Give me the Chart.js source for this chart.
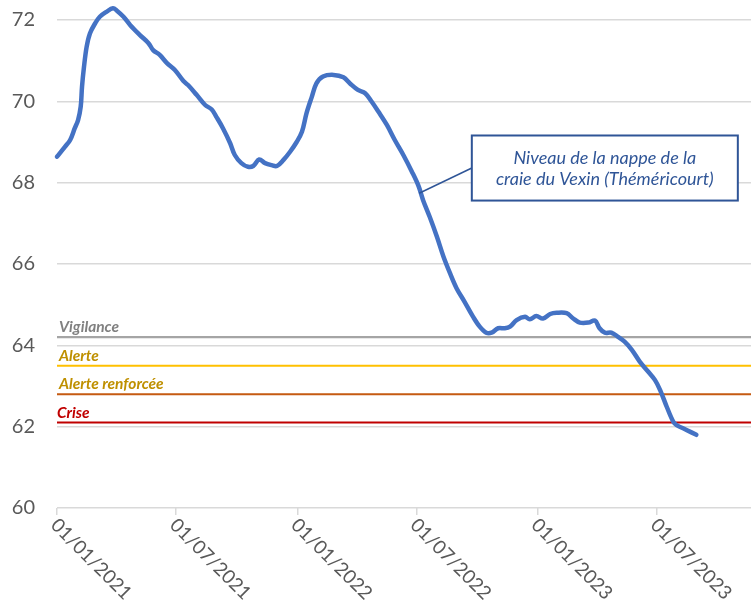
<!DOCTYPE html>
<html><head><meta charset="utf-8">
<script src="https://cdn.jsdelivr.net/npm/chart.js@4.4.1/dist/chart.umd.min.js"></script>
<style>html,body{margin:0;padding:0;background:#fff}#wrap{width:751px;height:610px}</style>
</head><body><div id="wrap"><canvas id="c" width="751" height="610"></canvas></div>
<script>
// ---- data ----
const dates = ['2021-01-01','2021-01-13','2021-01-21','2021-01-28','2021-02-02','2021-02-06','2021-02-08','2021-02-11','2021-02-15','2021-02-20','2021-02-28','2021-03-07','2021-03-17','2021-03-27','2021-04-02','2021-04-12','2021-04-22','2021-05-07','2021-05-20','2021-05-27','2021-06-06','2021-06-17','2021-06-29','2021-07-12','2021-07-19','2021-08-01','2021-08-14','2021-08-24','2021-08-31','2021-09-10','2021-09-21','2021-09-28','2021-10-08','2021-10-18','2021-10-26','2021-11-04','2021-11-13','2021-11-23','2021-12-01','2021-12-11','2021-12-21','2021-12-31','2022-01-08','2022-01-15','2022-01-23','2022-01-30','2022-02-09','2022-02-25','2022-03-12','2022-03-22','2022-04-03','2022-04-14','2022-04-24','2022-05-04','2022-05-17','2022-05-29','2022-06-11','2022-06-24','2022-07-04','2022-07-11','2022-07-21','2022-08-01','2022-08-11','2022-08-21','2022-08-31','2022-09-12','2022-09-25','2022-10-05','2022-10-15','2022-10-23','2022-11-02','2022-11-12','2022-11-20','2022-11-30','2022-12-13','2022-12-20','2022-12-30','2023-01-09','2023-01-20','2023-01-30','2023-02-14','2023-02-24','2023-03-06','2023-03-19','2023-03-29','2023-04-05','2023-04-13','2023-04-23','2023-05-03','2023-05-13','2023-05-24','2023-06-05','2023-06-18','2023-06-28','2023-07-06','2023-07-16','2023-07-26','2023-07-31','2023-08-15','2023-08-30'];
const levels = [68.64,68.88,69.05,69.34,69.54,69.87,70.36,70.85,71.34,71.67,71.92,72.08,72.20,72.29,72.23,72.08,71.88,71.63,71.43,71.26,71.14,70.94,70.77,70.50,70.40,70.16,69.91,69.80,69.62,69.34,68.97,68.68,68.48,68.39,68.41,68.57,68.48,68.43,68.41,68.56,68.76,69.00,69.25,69.71,70.11,70.44,70.61,70.65,70.59,70.44,70.28,70.20,69.99,69.75,69.42,69.05,68.68,68.27,67.92,67.57,67.16,66.67,66.18,65.77,65.40,65.07,64.70,64.46,64.31,64.31,64.42,64.42,64.46,64.62,64.70,64.64,64.72,64.66,64.77,64.80,64.79,64.66,64.56,64.56,64.61,64.42,64.31,64.31,64.21,64.09,63.89,63.60,63.35,63.15,62.90,62.49,62.12,62.04,61.92,61.80];
const tickLabels = ['01/01/2021','01/07/2021','01/01/2022','01/07/2022','01/01/2023','01/07/2023'];
const yTickValues = [60,62,64,66,68,70,72];
const thresholdNames = ['Vigilance','Alerte','Alerte renforcée','Crise'];
const thresholdValues = [64.2,63.5,62.8,62.1];
const seriesLabel = ['Niveau de la nappe de la','craie du Vexin (Théméricourt)'];
const axisEnd = '2023-11-21';

// ---- helpers ----
const ORIGIN = Date.UTC(2021,0,1);
const dayOf = iso => (Date.parse(iso+'T00:00:00Z') - ORIGIN)/86400000;
const dayOfFr = s => { const [d,m,y] = s.split('/').map(Number); return (Date.UTC(y,m-1,d)-ORIGIN)/86400000; };
const tickDays = tickLabels.map(dayOfFr);
const xMax = dayOf(axisEnd);

const thresholdLineColors = ['#A5A5A5','#FFC000','#C55A11','#C00000'];
const thresholdTextColors = ['#808080','#BF9000','#BF9000','#C00000'];
const FONT = 'Lato, "Open Sans", sans-serif';

// callout placement (in data units)
const callout = { x0: dayOf('2022-09-23'), x1: dayOf('2023-11-01'), yTop: 69.16, yBottom: 67.56, anchorY: 68.36, toX: dayOf('2022-07-05'), toY: 67.74 };

const seriesData = dates.map((d,i) => ({x: dayOf(d), y: levels[i]}));

const thresholdSets = thresholdValues.map((v,i) => ({
  label: thresholdNames[i],
  data: [{x:0,y:v},{x:xMax,y:v}],
  borderColor: thresholdLineColors[i],
  borderWidth: i===0 ? 2.2 : 2,
  pointRadius: 0,
  order: 2
}));

const overlay = {
  id: 'overlay',
  afterDraw(chart) {
    const ctx = chart.ctx, xs = chart.scales.x, ys = chart.scales.y;
    ctx.save();
    // x tick labels, rotated 45deg clockwise
    ctx.font = '19px ' + FONT;
    ctx.fillStyle = '#595959';
    ctx.textAlign = 'left';
    ctx.textBaseline = 'middle';
    tickDays.forEach((d,i) => {
      const px = xs.getPixelForValue(d);
      ctx.save();
      ctx.translate(px - 3, ys.bottom + 14);
      ctx.rotate(Math.PI/4);
      ctx.fillText(tickLabels[i], 0, 0);
      ctx.restore();
    });
    // threshold labels
    ctx.font = 'italic bold 15.5px ' + FONT;
    ctx.textBaseline = 'alphabetic';
    thresholdValues.forEach((v,i) => {
      ctx.fillStyle = thresholdTextColors[i];
      ctx.fillText(thresholdNames[i], xs.left + (i===3 ? 0 : 2), ys.getPixelForValue(v) - 5);
    });
    // callout
    const bx0 = xs.getPixelForValue(callout.x0), bx1 = xs.getPixelForValue(callout.x1);
    const by0 = ys.getPixelForValue(callout.yTop), by1 = ys.getPixelForValue(callout.yBottom);
    ctx.strokeStyle = '#2F5597';
    ctx.lineWidth = 1.5;
    ctx.beginPath();
    ctx.moveTo(bx0, ys.getPixelForValue(callout.anchorY));
    ctx.lineTo(xs.getPixelForValue(callout.toX), ys.getPixelForValue(callout.toY));
    ctx.stroke();
    ctx.fillStyle = '#fff';
    ctx.fillRect(bx0, by0, bx1-bx0, by1-by0);
    ctx.lineWidth = 2;
    ctx.strokeRect(bx0, by0, bx1-bx0, by1-by0);
    ctx.fillStyle = '#2F5597';
    ctx.font = 'italic 18px ' + FONT;
    ctx.textAlign = 'center';
    const cx = (bx0+bx1)/2, cy = (by0+by1)/2;
    ctx.fillText(seriesLabel[0], cx, cy - 4);
    ctx.fillText(seriesLabel[1], cx, cy + 17);
    ctx.restore();
  }
};

new Chart(document.getElementById('c'), {
  type: 'line',
  data: {
    datasets: [
      { label: seriesLabel.join(' '), data: seriesData, borderColor: '#4472C4', borderWidth: 4.5,
        pointRadius: 0, tension: 0.35, borderCapStyle: 'round', borderJoinStyle: 'round', order: 0, clip: false },
      ...thresholdSets
    ]
  },
  options: {
    responsive: false,
    animation: false,
    events: [],
    layout: { padding: { top: 20, right: 0, bottom: 95, left: 0 } },
    plugins: { legend: { display: false }, tooltip: { enabled: false } },
    scales: {
      x: {
        type: 'linear', min: 0, max: xMax,
        afterBuildTicks: s => { s.ticks = tickDays.map(v => ({ value: v })); },
        ticks: { display: false },
        grid: { drawOnChartArea: false, drawTicks: true, tickLength: 7, color: '#D9D9D9', lineWidth: 1.5 },
        border: { display: false }
      },
      y: {
        min: 60, max: 72,
        afterBuildTicks: s => { s.ticks = yTickValues.map(v => ({ value: v })); },
        afterFit: s => { s.width = 57; },
        ticks: { font: { family: FONT, size: 20 }, color: '#595959', padding: 0 },
        grid: { color: '#D9D9D9', lineWidth: 1.5, drawTicks: true, tickLength: 22, tickColor: 'rgba(0,0,0,0)' },
        border: { display: false }
      }
    }
  },
  plugins: [overlay]
});
</script>
</body></html>
